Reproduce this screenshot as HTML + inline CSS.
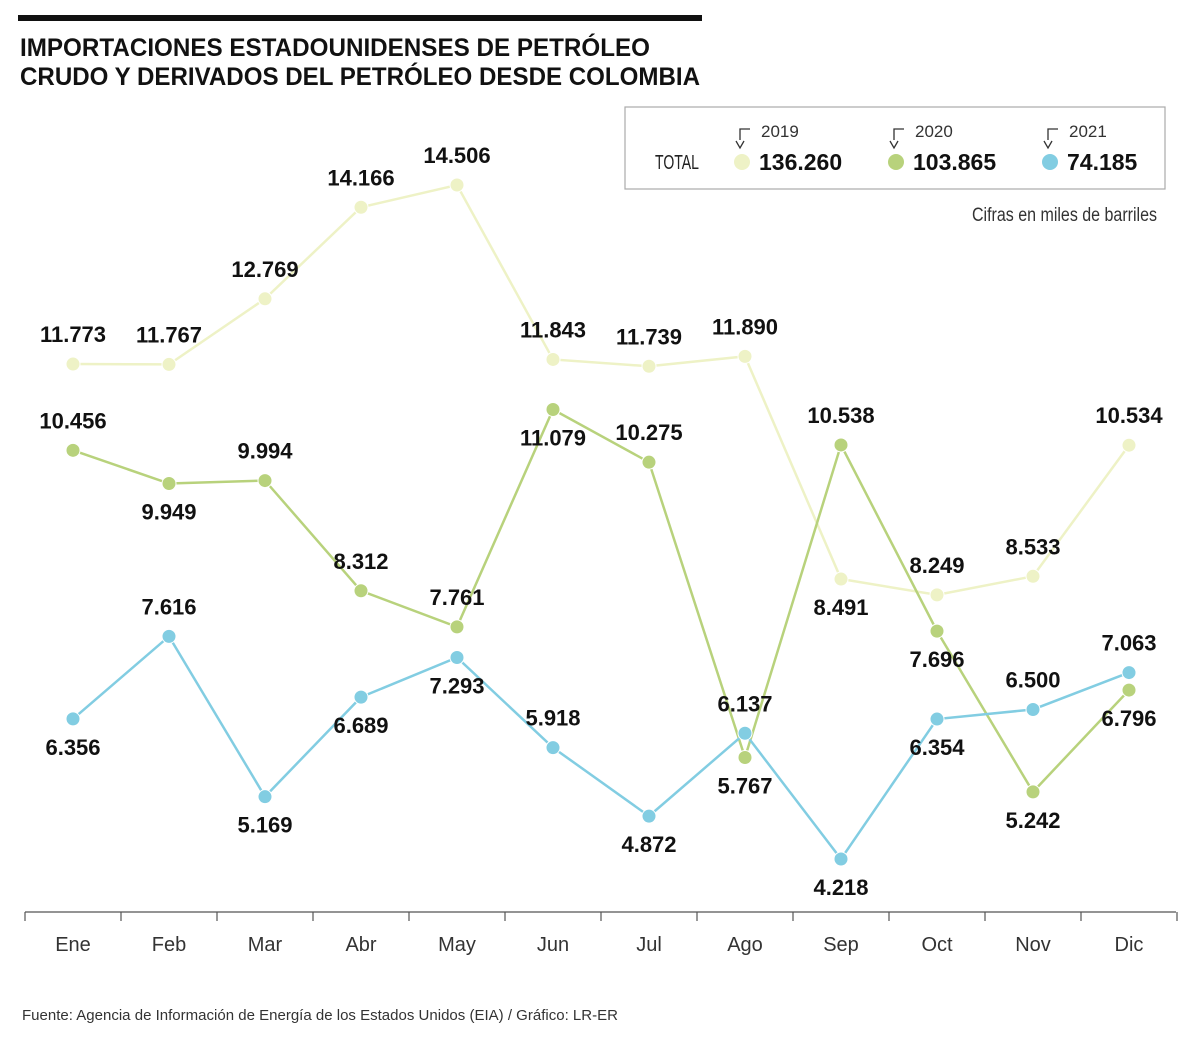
<!DOCTYPE html>
<html><head><meta charset="utf-8"><style>
body{margin:0;background:#fff;font-family:"Liberation Sans",sans-serif;}
svg{display:block}
</style></head><body>
<svg width="1200" height="1042" viewBox="0 0 1200 1042">
<rect x="18" y="15" width="684" height="6" fill="#111"/>
<text x="20" y="56" font-size="25" font-weight="bold" fill="#111" textLength="630" lengthAdjust="spacingAndGlyphs">IMPORTACIONES ESTADOUNIDENSES DE PETRÓLEO</text>
<text x="20" y="85" font-size="25" font-weight="bold" fill="#111" textLength="680" lengthAdjust="spacingAndGlyphs">CRUDO Y DERIVADOS DEL PETRÓLEO DESDE COLOMBIA</text>
<g>
<rect x="625" y="107" width="540" height="82" fill="#fff" stroke="#aaa" stroke-width="1.2"/>
<text x="655" y="169" font-size="20" fill="#222" textLength="44" lengthAdjust="spacingAndGlyphs">TOTAL</text>
<g id="leg"></g>
</g>
<text x="1157" y="221" font-size="19" fill="#333" text-anchor="end" textLength="185" lengthAdjust="spacingAndGlyphs">Cifras en miles de barriles</text>
<g id="axis"></g>
<g id="plot"></g>
<text x="22" y="1020" font-size="15" fill="#333" textLength="596" lengthAdjust="spacingAndGlyphs">Fuente: Agencia de Información de Energía de los Estados Unidos (EIA) / Gráfico: LR-ER</text>
</svg>
<script>
const months=["Ene","Feb","Mar","Abr","May","Jun","Jul","Ago","Sep","Oct","Nov","Dic"];
const v2019=[11.773,11.767,12.769,14.166,14.506,11.843,11.739,11.890,8.491,8.249,8.533,10.534];
const v2020=[10.456,9.949,9.994,8.312,7.761,11.079,10.275,5.767,10.538,7.696,5.242,6.796];
const v2021=[6.356,7.616,5.169,6.689,7.293,5.918,4.872,6.137,4.218,6.354,6.500,7.063];
const years=["2019","2020","2021"];
const totals=["136.260","103.865","74.185"];
// label placement: 1 above, -1 below
const pos2019=[1,1,1,1,1,1,1,1,-1,1,1,1];
const pos2020=[1,-1,1,1,1,-1,1,-1,1,-1,-1,-1];
const pos2021=[-1,1,-1,-1,-1,1,-1,1,-1,-1,1,1];
const colors=["#eef2c6","#b8d27c","#82cde2"];
const NS="http://www.w3.org/2000/svg";
const x=i=>73+i*96;
const y=v=>185+(14.506-v)*65.51;
function mk(t,a,p){const e=document.createElementNS(NS,t);for(const k in a)e.setAttribute(k,a[k]);p.appendChild(e);return e;}
const fmt=v=>v.toFixed(3);
const axis=document.getElementById('axis');
mk('line',{x1:25,y1:912,x2:1176,y2:912,stroke:'#555','stroke-width':1.2},axis);
for(let i=0;i<=12;i++)mk('line',{x1:25+i*96,y1:912,x2:25+i*96,y2:921,stroke:'#555','stroke-width':1.2},axis);
months.forEach((m,i)=>{const t=mk('text',{x:x(i),y:951,'font-size':20,fill:'#333','text-anchor':'middle'},axis);t.textContent=m;

});
const plot=document.getElementById('plot');
[[v2019,pos2019],[v2020,pos2020],[v2021,pos2021]].forEach(([vals,ps],s)=>{
 const g=mk('g',{},plot);
 
 
 mk('polyline',{points:vals.map((v,i)=>x(i)+','+y(v)).join(' '),fill:'none',stroke:colors[s],'stroke-width':2.5},g);
 vals.forEach((v,i)=>{
  const c=mk('circle',{cx:x(i),cy:y(v),r:7,fill:colors[s],stroke:'#fff','stroke-width':1},g);
  
  
  const t=mk('text',{x:x(i),y:y(v)+(ps[i]>0?-22:36),'font-size':22,'font-weight':'bold',fill:'#111','text-anchor':'middle'},g);
  t.textContent=fmt(v);
  
  
 });
});
const leg=document.getElementById('leg');
years.forEach((yr,k)=>{
 const bx=740+k*154;
 mk('path',{d:`M${bx} 140 V129 H${bx+10}`,fill:'none',stroke:'#333','stroke-width':1.3},leg);
 mk('path',{d:`M${bx-4} 141 L${bx} 148 L${bx+4} 141`,fill:'none',stroke:'#333','stroke-width':1.3},leg);
 const t=mk('text',{x:bx+21,y:137,'font-size':17,fill:'#333'},leg);t.textContent=yr;
 
 
 const c=mk('circle',{cx:bx+2,cy:162,r:8,fill:colors[k]},leg);
 
 
 const tt=mk('text',{x:bx+19,y:170,'font-size':23,'font-weight':'bold',fill:'#111'},leg);tt.textContent=totals[k];
 
 
});
</script>
</body></html>
